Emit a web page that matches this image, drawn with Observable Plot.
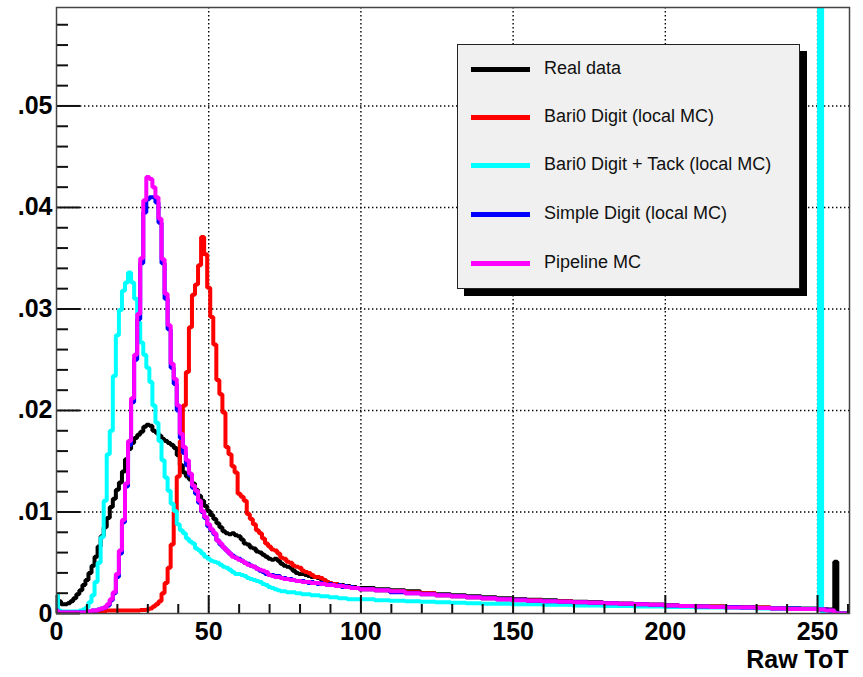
<!DOCTYPE html>
<html><head><meta charset="utf-8">
<script src="https://cdn.jsdelivr.net/npm/d3@7"></script>
<script src="https://cdn.jsdelivr.net/npm/@observablehq/plot@0.6"></script>
<style>
body{margin:0;background:#fff;}
#wrap{position:relative;width:863px;height:677px;font-family:"Liberation Sans",Arial,Helvetica,sans-serif;color:#000;}
#legend{position:absolute;left:457px;top:44px;width:341px;height:243px;background:#f0f0f0;border:1px solid #222;box-shadow:7px 7px 0 #000;}
.item{position:absolute;left:0;height:0;width:100%;}
.sw{position:absolute;left:13px;width:59px;height:5px;top:-2.5px;}
.lab{position:absolute;left:86px;font-size:18px;line-height:20px;top:-11px;white-space:nowrap;color:#111;}
</style>
</head><body>
<div id="wrap"><div id="chart"></div><div id="legend"></div></div>
<script>
// ---- series ----
const seriesNames = ["Real data", "Bari0 Digit (local MC)", "Bari0 Digit + Tack (local MC)", "Simple Digit (local MC)", "Pipeline MC"];
const seriesColors = ["#000000", "#ff0000", "#00ffff", "#0000ff", "#ff00ff"];

// ---- axis ticks ----
const xMajorTicks = [0, 50, 100, 150, 200, 250];
const xMinorTicks = [10, 20, 30, 40, 60, 70, 80, 90, 110, 120, 130, 140, 160, 170, 180, 190, 210, 220, 230, 240, 260];
const yMajorTicks = [0, 0.01, 0.02, 0.03, 0.04, 0.05];
const yMinorTicks = [0.002, 0.004, 0.006, 0.008, 0.012, 0.014, 0.016, 0.018, 0.022, 0.024, 0.026, 0.028, 0.032, 0.034, 0.036, 0.038, 0.042, 0.044, 0.046, 0.048, 0.052, 0.054, 0.056, 0.058];

// ---- histogram contents ----
// fine bins: width 1, centred on 0..99
const blackFine = [0.0018,0.0012,0.0009,0.0009,0.0010,0.0012,0.0015,0.0019,0.0023,0.0028,
0.0033,0.0040,0.0047,0.0056,0.0066,0.0076,0.0085,0.0094,0.0105,0.0113,
0.0122,0.0129,0.0140,0.0152,0.0162,0.0168,0.0173,0.0176,0.0179,0.0184,
0.0186,0.0185,0.0180,0.0178,0.0175,0.0172,0.0170,0.0168,0.0166,0.0163,
0.0156,0.0146,0.0139,0.0135,0.0132,0.0128,0.0122,0.0116,0.0111,0.0106,
0.0101,0.0097,0.0093,0.0089,0.0085,0.0081,0.0079,0.0078,0.0079,0.0077,
0.0076,0.0073,0.0069,0.0068,0.0065,0.0064,0.0061,0.0060,0.0058,0.0056,
0.0054,0.0053,0.0054,0.0052,0.0049,0.0047,0.0046,0.0045,0.0042,0.0040,
0.0039,0.0039,0.0038,0.0037,0.0036,0.0036,0.0035,0.0034,0.0033,0.0031,
0.0030,0.0029,0.0029,0.0028,0.0028,0.0027,0.0027,0.0026,0.0026,0.0025];
const redFine = [0,0,0,0,0,0,0,0,0,0.00005,
0.0001,0.0001,0.00015,0.0002,0.0002,0.0002,0.00025,0.0003,0.0003,0.0003,
0.0003,0.0003,0.0003,0.0003,0.0003,0.0003,0.0003,0.0003,0.00035,0.00035,
0.0004,0.0005,0.0007,0.0009,0.0012,0.0020,0.0030,0.0045,0.0068,0.0100,
0.0135,0.0170,0.0205,0.0238,0.0282,0.0314,0.0324,0.0343,0.0371,0.0354,
0.0321,0.0292,0.0265,0.0230,0.0216,0.0198,0.0164,0.0157,0.0145,0.0139,
0.0118,0.0115,0.0111,0.0098,0.0093,0.0088,0.0082,0.0079,0.0074,0.0069,
0.0066,0.0063,0.0062,0.0059,0.0055,0.0054,0.0051,0.0050,0.0047,0.0046,
0.0045,0.0042,0.0041,0.0040,0.0038,0.0036,0.0036,0.0035,0.0033,0.0031,
0.0030,0.0029,0.0029,0.0028,0.0027,0.0027,0.0026,0.0026,0.0025,0.0025];
const cyanFine = [0.0018,0.0003,0.0002,0.0002,0.0002,0.0002,0.0002,0.0002,0.0003,0.0004,
0.0006,0.0011,0.0018,0.0031,0.0050,0.0075,0.0111,0.0157,0.0180,0.0234,
0.0274,0.0299,0.0318,0.0326,0.0336,0.0326,0.0310,0.0287,0.0267,0.0255,
0.0242,0.0228,0.0205,0.0188,0.0170,0.0151,0.0134,0.0121,0.0108,0.0101,
0.0088,0.0082,0.0079,0.0074,0.0071,0.0069,0.0064,0.0062,0.0059,0.0056,
0.0054,0.0052,0.0051,0.0050,0.0048,0.0046,0.0045,0.0043,0.0041,0.0039,
0.0039,0.0038,0.0037,0.0035,0.0034,0.0033,0.0032,0.0031,0.0029,0.0028,
0.0026,0.0025,0.0024,0.0023,0.0022,0.0022,0.0021,0.0021,0.0021,0.0020,
0.0020,0.0019,0.0019,0.0019,0.0018,0.0018,0.0018,0.0017,0.0017,0.0017,
0.0016,0.0016,0.0016,0.0015,0.0015,0.0015,0.0014,0.0014,0.0014,0.0014];
const blueFine = [0.0003,0.0001,0.0001,0.0001,0.0001,0.0001,0.0001,0.0001,0.0001,0.0001,
0.0001,0.0002,0.0003,0.0003,0.0004,0.0005,0.0006,0.0008,0.0013,0.0020,
0.0036,0.0059,0.0090,0.0125,0.0166,0.0208,0.0250,0.0290,0.0345,0.0395,
0.0408,0.0410,0.0410,0.0405,0.0385,0.0345,0.0310,0.0280,0.0242,0.0226,
0.0200,0.0173,0.0158,0.0146,0.0136,0.0124,0.0118,0.0109,0.0100,0.0094,
0.0086,0.0082,0.0078,0.0072,0.0068,0.0065,0.0062,0.0059,0.0057,0.0055,
0.0054,0.0052,0.0050,0.0049,0.0047,0.0046,0.0044,0.0042,0.0041,0.0039,
0.0038,0.0038,0.0037,0.0037,0.0035,0.0035,0.0034,0.0034,0.0033,0.0032,
0.0032,0.0032,0.0031,0.0030,0.0031,0.0030,0.0029,0.0030,0.0029,0.0028,
0.0029,0.0028,0.0027,0.0028,0.0026,0.0027,0.0026,0.0026,0.0025,0.0025];
const magentaFine = [0.0003,0.0001,0.0001,0.0001,0.0001,0.0001,0.0001,0.0001,0.0001,0.0001,
0.0001,0.0002,0.0003,0.0003,0.0004,0.0005,0.0006,0.0009,0.0014,0.0021,
0.0039,0.0062,0.0092,0.0128,0.0170,0.0212,0.0255,0.0295,0.0350,0.0407,
0.0430,0.0428,0.0420,0.0410,0.0389,0.0349,0.0315,0.0284,0.0246,0.0231,
0.0205,0.0177,0.0164,0.0151,0.0138,0.0126,0.0121,0.0111,0.0101,0.0095,
0.0088,0.0083,0.0079,0.0072,0.0069,0.0065,0.0062,0.0059,0.0056,0.0055,
0.0053,0.0052,0.0050,0.0048,0.0047,0.0046,0.0044,0.0043,0.0042,0.0041,
0.0038,0.0037,0.0036,0.0036,0.0035,0.0034,0.0034,0.0033,0.0033,0.0032,
0.0032,0.0031,0.0031,0.0031,0.0030,0.0030,0.0030,0.0029,0.0029,0.0028,
0.0028,0.0028,0.0027,0.0027,0.0027,0.0026,0.0026,0.0025,0.0025,0.0025];

// tail bins: width 5, from 99.5 to 249.5
const blackTail = [0.0025,0.0024,0.0023,0.0022,0.0020,0.0019,0.0018,0.0017,0.0016,0.0015,0.0014,0.00135,0.0013,0.0012,0.00115,0.0011,0.0010,0.00095,0.0009,0.00085,0.0008,0.00075,0.0007,0.0007,0.00065,0.0006,0.0006,0.00055,0.00055,0.0005];
const redTail = [0.0024,0.0023,0.0022,0.0021,0.0020,0.0018,0.0017,0.0016,0.0015,0.0014,0.00135,0.0013,0.0012,0.0012,0.0011,0.00105,0.0010,0.00095,0.0009,0.00085,0.0008,0.00075,0.0007,0.0007,0.00065,0.0006,0.0006,0.00055,0.0005,0.0005];
const cyanTail = [0.0014,0.0013,0.00125,0.0012,0.00115,0.0011,0.00105,0.0010,0.00095,0.00095,0.0009,0.0009,0.00085,0.00085,0.0008,0.0008,0.00075,0.00075,0.0007,0.0007,0.00065,0.00065,0.0006,0.0006,0.00055,0.00055,0.0005,0.0005,0.0005,0.0005];
const blueTail = [0.0024,0.0023,0.0021,0.0020,0.0019,0.0018,0.0017,0.0016,0.0015,0.0014,0.00135,0.00125,0.0012,0.00115,0.0011,0.00105,0.0010,0.00095,0.0009,0.00085,0.0008,0.00075,0.0007,0.00065,0.00065,0.0006,0.00055,0.0005,0.0005,0.00045];
const magentaTail = [0.0024,0.0023,0.0022,0.0020,0.0019,0.0018,0.0017,0.0016,0.0015,0.0014,0.0013,0.00125,0.0012,0.00115,0.0011,0.00105,0.0010,0.00095,0.0009,0.00085,0.0008,0.00075,0.0007,0.00065,0.0006,0.0006,0.00055,0.0005,0.00045,0.00045];

// end bins: width 1, centred on 250..260
const blackEnd = [0.0005,0.0005,0.0004,0.0004,0.0004,0.0004,0.0051,0,0,0,0];
const redEnd = [0.0005,0.0004,0.0004,0.0004,0.0003,0.0003,0,0,0,0,0];
const cyanEnd = [0.0005,0.12,0,0,0,0,0,0,0,0,0];
const blueEnd = [0.00045,0.0004,0.0004,0.0004,0.0003,0.0003,0,0,0,0,0];
const magentaEnd = [0.00045,0.0004,0.0004,0.0003,0.0003,0.0003,0,0,0,0,0];

const fineSets = [blackFine, redFine, cyanFine, blueFine, magentaFine];
const tailSets = [blackTail, redTail, cyanTail, blueTail, magentaTail];
const endSets = [blackEnd, redEnd, cyanEnd, blueEnd, magentaEnd];

function steps(fine, tail, end) {
  const pts = [];
  fine.forEach((v, i) => { pts.push({x: i - 0.5, y: v}, {x: i + 0.5, y: v}); });
  tail.forEach((v, i) => { pts.push({x: 99.5 + 5 * i, y: v}, {x: 104.5 + 5 * i, y: v}); });
  end.forEach((v, i) => { pts.push({x: 249.5 + i, y: v}, {x: 250.5 + i, y: v}); });
  return pts;
}

const fmtY = d => d === 0 ? "0" : d3.format(".2f")(d).replace(/^0/, "");
const axisFont = {fontSize: 25, fontWeight: "bold", fill: "#000", stroke: "#111", strokeWidth: 2};

const lineMarks = seriesNames.map((name, k) =>
  Plot.line(steps(fineSets[k], tailSets[k], endSets[k]), {
    x: "x", y: "y", stroke: seriesColors[k], strokeWidth: 4,
    strokeLinejoin: "miter", strokeLinecap: "butt", clip: true
  })
);

const gridStyle = {stroke: "#000", strokeOpacity: 1, strokeWidth: 1.4, strokeDasharray: "1.4,2.6"};

const chart = Plot.plot({
  width: 863, height: 677,
  marginLeft: 56, marginRight: 14, marginTop: 7, marginBottom: 64,
  style: {fontFamily: "'Liberation Sans', Arial, Helvetica, sans-serif", background: "#fff", color: "#000"},
  x: {domain: [0, 260.5]},
  y: {domain: [0, 0.0597]},
  marks: [
    Plot.gridX(xMajorTicks.slice(1), gridStyle),
    Plot.gridY(yMajorTicks.slice(1), gridStyle),
    ...lineMarks,
    Plot.axisY(yMinorTicks, {tickSize: -12, tickFormat: () => "", stroke: "#111", strokeWidth: 2, label: null}),
    Plot.axisY(yMajorTicks, {tickSize: -24, tickPadding: 28, tickFormat: fmtY, label: null, ...axisFont}),
    Plot.axisX(xMinorTicks, {tickSize: -9, tickFormat: () => "", stroke: "#111", strokeWidth: 2, label: null}),
    Plot.axisX(xMajorTicks, {tickSize: -18, tickPadding: 27, tickFormat: d => String(d), label: null, ...axisFont}),
    Plot.frame({stroke: "#444", strokeWidth: 1.5}),
    Plot.text(["Raw ToT"], {text: d => d, frameAnchor: "bottom-right", dx: -1, dy: 54, textAnchor: "end", fontSize: 25, fontWeight: "bold", fill: "#000"})
  ]
});
document.getElementById("chart").appendChild(chart);

// legend
const legend = document.getElementById("legend");
const legendY = [24, 72, 120, 169, 218];
seriesNames.forEach((name, k) => {
  const it = document.createElement("div");
  it.className = "item";
  it.style.top = legendY[k] + "px";
  const sw = document.createElement("div");
  sw.className = "sw";
  sw.style.background = seriesColors[k];
  const lab = document.createElement("div");
  lab.className = "lab";
  lab.textContent = name;
  it.appendChild(sw); it.appendChild(lab);
  legend.appendChild(it);
});
</script>
</body></html>
